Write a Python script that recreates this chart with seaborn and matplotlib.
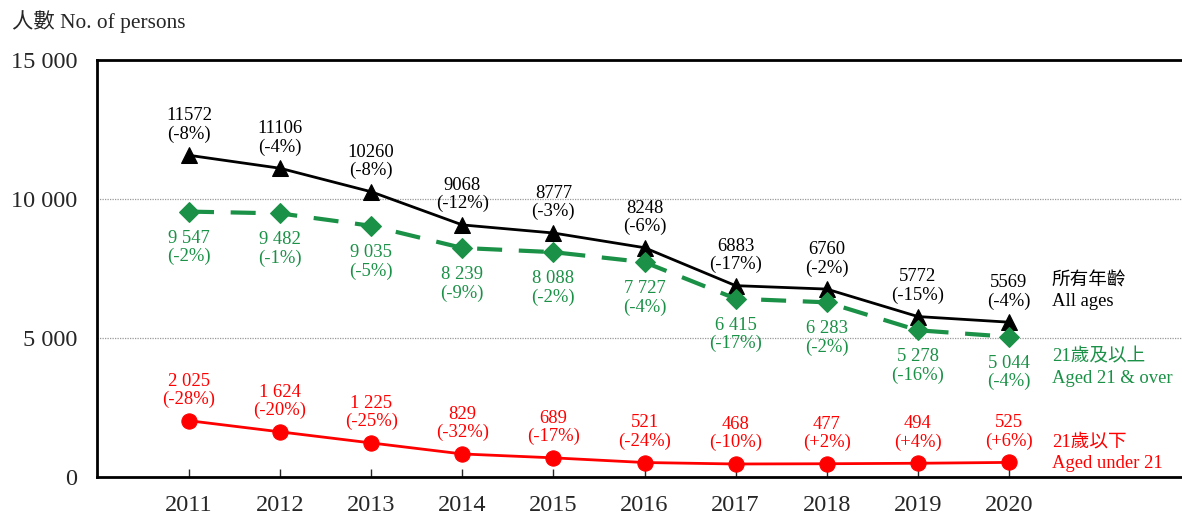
import numpy as np
import pandas as pd
import matplotlib
matplotlib.use("Agg")
import matplotlib.pyplot as plt
import seaborn as sns

# data
years = [2011, 2012, 2013, 2014, 2015, 2016, 2017, 2018, 2019, 2020]
all_ages = [11572, 11106, 10260, 9068, 8777, 8248, 6883, 6760, 5772, 5569]
all_pct = ["-8%", "-4%", "-8%", "-12%", "-3%", "-6%", "-17%", "-2%", "-15%", "-4%"]
over21 = [9547, 9482, 9035, 8239, 8088, 7727, 6415, 6283, 5278, 5044]
over21_pct = ["-2%", "-1%", "-5%", "-9%", "-2%", "-4%", "-17%", "-2%", "-16%", "-4%"]
under21 = [2025, 1624, 1225, 829, 689, 521, 468, 477, 494, 525]
under21_pct = ["-28%", "-20%", "-25%", "-32%", "-17%", "-24%", "-10%", "+2%", "+4%", "+6%"]
yticks = [0, 5000, 10000, 15000]
ytick_labels = ["0", "5 000", "10 000", "15 000"]

sns.set_style("white")
plt.rcParams['font.family'] = ['Liberation Serif', 'Noto Sans CJK TC', 'DejaVu Sans']

GREEN = "#1a9146"
RED = "#ff0000"

fig = plt.figure(figsize=(11.82, 5.17), dpi=100)
ax = fig.add_axes([97 / 1182, 1 - 477 / 517, 1 - 97 / 1182, (477 - 60) / 517])

df = pd.DataFrame({"year": years, "all": all_ages, "over": over21, "under": under21})

sns.lineplot(data=df, x="year", y="all", ax=ax, color="black", lw=2,
             marker="^", markersize=11, markeredgecolor="black")
sns.lineplot(data=df, x="year", y="over", ax=ax, color=GREEN, lw=3,
             dashes=False, marker="D", markersize=10, markeredgecolor=GREEN)
ax.lines[-1].set_dashes([6, 4])
sns.lineplot(data=df, x="year", y="under", ax=ax, color=RED, lw=2,
             marker="o", markersize=11, markeredgecolor=RED)


def fmt(v):
    return f"{v:,}".replace(",", " ")


fs = 13.4
ls = 1.1
for x, v, p in zip(years, all_ages, all_pct):
    ax.annotate(f"{v}\n({p})", (x, v), xytext=(0, 9), textcoords="offset points",
                ha="center", va="bottom", fontsize=fs, color="black", linespacing=ls)
for x, v, p in zip(years, over21, over21_pct):
    ax.annotate(f"{fmt(v)}\n({p})", (x, v), xytext=(0, -13), textcoords="offset points",
                ha="center", va="top", fontsize=fs, color=GREEN, linespacing=ls)
for x, v, p in zip(years, under21, under21_pct):
    ax.annotate(f"{fmt(v)}\n({p})", (x, v), xytext=(0, 9), textcoords="offset points",
                ha="center", va="bottom", fontsize=fs, color=RED, linespacing=ls)

# series labels at right
ax.text(2020.47, 6690, "所有年齡\nAll ages", fontsize=fs, color="black",
        va="center", ha="left", linespacing=1.25)
ax.text(2020.47, 3940, "21歲及以上\nAged 21 & over", fontsize=fs, color=GREEN,
        va="center", ha="left", linespacing=1.35)
ax.text(2020.47, 880, "21歲以下\nAged under 21", fontsize=fs, color=RED,
        va="center", ha="left", linespacing=1.35)

ax.set_xlim(2009.99, 2021.9)
ax.set_ylim(0, 15000)
ax.set_xticks(years)
ax.set_xticklabels([str(y) for y in years], fontsize=17.5)
ax.set_yticks(yticks)
ax.set_yticklabels(ytick_labels, fontsize=17.5)
ax.set_xlabel("")
ax.set_ylabel("")
ax.tick_params(axis="x", direction="in", length=6, width=1, pad=13, bottom=True)
ax.tick_params(axis="y", length=0, pad=14)

for y in [5000, 10000]:
    ax.axhline(y, color="#999999", lw=0.9, ls=(0, (1, 1)), zorder=0)

for s in ["left", "top", "bottom"]:
    ax.spines[s].set_color("black")
    ax.spines[s].set_linewidth(2)
ax.spines["right"].set_visible(False)

fig.text(12 / 1182, 1 - 22 / 517, "人數 No. of persons", fontsize=15.4,
         va="center", ha="left")

fig.savefig("out.png", dpi=100)
